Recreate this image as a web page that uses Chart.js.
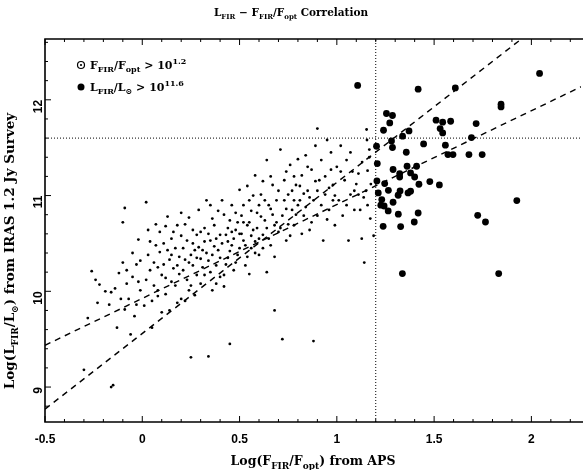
<!DOCTYPE html>
<html><head><meta charset="utf-8">
<script src="https://cdn.jsdelivr.net/npm/chart.js@4/dist/chart.umd.min.js"></script>
<style>html,body{margin:0;padding:0;background:#fff}#wrap{width:585px;height:470px;position:relative}</style>
</head><body><div id="wrap"><canvas id="c" width="585" height="470"></canvas></div>
<script>
// ---- data ----
const smallX = [
-0.30,-0.26,-0.24,-0.22,-0.23,-0.28,
-0.16,-0.15,-0.19,-0.17,-0.16,-0.14,-0.12,-0.09,-0.10,-0.10,-0.13,-0.11,
-0.08,-0.07,-0.05,-0.04,-0.03,-0.02,-0.01,-0.06,-0.05,-0.03,-0.02,-0.08,-0.01,-0.09,
0.01,0.02,0.03,0.04,0.05,0.06,0.07,0.08,0.09,0.10,0.02,0.04,0.05,0.06,0.07,0.08,0.09,0.10,0.03,0.08,
0.11,0.12,0.13,0.14,0.15,0.16,0.17,0.18,0.19,0.20,0.11,0.12,0.13,0.14,0.15,0.16,0.17,0.18,0.19,0.20,0.12,0.15,0.18,0.20,
0.21,0.22,0.23,0.24,0.25,0.25,0.26,0.27,0.28,0.29,0.30,0.21,0.22,0.23,0.24,0.25,0.26,0.27,0.28,0.29,0.30,0.22,0.24,0.26,0.28,0.30,
0.31,0.32,0.33,0.34,0.34,0.35,0.36,0.37,0.38,0.39,0.40,0.31,0.32,0.33,0.35,0.36,0.37,0.38,0.39,0.40,0.32,0.34,0.36,0.38,0.40,0.35,
0.41,0.42,0.43,0.44,0.45,0.46,0.47,0.48,0.49,0.50,0.41,0.42,0.43,0.44,0.45,0.46,0.47,0.48,0.49,0.50,0.42,0.44,0.46,0.48,0.50,0.45,
0.51,0.52,0.53,0.54,0.55,0.56,0.57,0.58,0.59,0.60,0.51,0.52,0.53,0.54,0.55,0.56,0.57,0.58,0.59,0.60,0.52,0.54,0.56,0.58,0.60,0.55,
0.61,0.62,0.63,0.64,0.65,0.66,0.67,0.68,0.69,0.70,0.61,0.62,0.63,0.64,0.65,0.66,0.67,0.68,0.69,0.70,0.64,0.68,0.62,0.66,
0.71,0.72,0.73,0.74,0.75,0.76,0.77,0.78,0.79,0.80,0.71,0.72,0.73,0.74,0.75,0.76,0.77,0.78,0.79,0.80,0.74,0.78,
0.81,0.82,0.83,0.84,0.85,0.86,0.87,0.88,0.88,0.89,0.90,0.81,0.82,0.83,0.84,0.85,0.86,0.87,0.89,0.90,
0.91,0.92,0.93,0.94,0.95,0.96,0.97,0.98,0.99,1.00,0.90,0.92,0.94,0.96,0.98,0.95,0.97,0.99,
1.01,1.02,1.03,1.04,1.05,1.06,1.07,1.08,1.09,1.10,1.02,1.05,1.07,1.09,
1.153,1.155,1.167,1.167,1.111,1.158,1.175,1.138,1.111,1.158,1.172,1.128,1.189,1.141,1.12,1.15,1.13];
const smallY = [
9.18,10.21,10.12,10.07,9.88,9.72,
9.00,9.02,10.00,9.86,9.99,10.03,10.19,10.87,10.72,10.30,9.62,9.92,
10.08,9.92,10.15,9.74,10.28,10.54,10.01,9.55,10.40,9.86,10.10,10.22,10.32,9.81,
9.85,10.93,10.38,10.22,9.62,10.06,10.48,9.95,10.62,10.17,10.12,10.52,9.90,10.30,10.70,10.01,10.41,9.78,10.64,10.25,
10.28,10.14,10.43,9.80,10.55,10.24,10.06,10.69,10.36,9.92,10.50,9.97,10.78,10.33,10.10,10.62,10.45,9.88,10.18,10.58,10.68,10.38,10.27,10.82,
10.22,9.90,10.53,10.30,9.31,10.06,10.64,10.43,10.17,10.85,10.34,10.45,10.70,10.12,10.01,10.38,10.27,9.96,10.59,10.46,10.08,10.33,10.77,10.50,10.35,10.62,
10.43,10.17,10.95,9.32,10.32,10.53,10.01,10.69,10.27,10.43,10.59,10.25,10.66,10.40,10.20,10.76,10.47,10.08,10.84,10.35,10.52,10.60,10.38,10.55,10.15,10.90,
10.95,10.17,10.59,10.35,10.74,10.48,10.22,10.64,10.38,11.06,10.50,10.80,10.28,10.66,10.42,10.90,10.55,10.30,10.72,10.45,10.05,10.52,10.62,10.82,10.60,9.45,
10.79,10.53,10.27,10.69,10.95,10.45,10.64,11.21,10.82,10.38,10.60,10.90,10.48,10.36,10.72,10.58,11.00,10.52,10.66,10.90,10.72,11.10,10.84,10.40,10.55,10.18,
11.01,10.59,10.74,11.37,10.90,10.48,11.11,10.69,10.95,10.62,10.78,10.45,10.95,10.66,10.55,11.20,10.80,10.36,10.72,11.05,10.20,9.80,11.15,10.86,
11.48,10.79,11.16,10.53,11.01,11.32,10.85,10.69,11.11,10.90,10.66,9.50,10.95,11.25,10.70,10.58,11.05,11.20,10.80,11.38,10.86,10.95,
10.95,11.21,10.79,11.42,11.05,10.64,11.27,9.48,10.95,11.52,10.79,11.10,10.60,11.02,10.88,11.30,10.98,10.72,11.15,11.05,
11.16,11.37,10.53,11.01,11.58,10.85,11.27,11.11,10.69,11.30,11.70,10.90,11.20,11.08,10.95,10.75,11.45,11.00,
10.95,11.52,10.79,11.16,11.37,10.53,11.01,11.25,10.85,11.12,11.25,10.90,11.45,11.05,
11.69,11.58,11.48,11.40,11.23,11.26,11.12,10.98,11.01,10.90,10.76,10.55,10.58,10.30,10.85,11.05,11.35];
const bigX = [2.042,1.418,1.609,1.844,1.844,1.255,1.286,1.272,1.510,1.544,1.585,1.716,1.531,1.544,1.240,1.371,1.338,1.692,1.281,1.286,1.204,1.446,1.558,1.357,1.571,1.597,1.679,1.747,1.208,1.289,1.361,1.410,1.323,1.323,1.379,1.400,1.206,1.246,1.422,1.478,1.527,1.265,1.325,1.366,1.379,1.213,1.315,1.231,1.289,1.226,1.243,1.264,1.316,1.418,1.925,1.724,1.764,1.398,1.238,1.328,1.337,1.832,1.107];
const bigY = [12.275,12.111,12.124,11.954,11.926,11.857,11.836,11.759,11.787,11.766,11.776,11.752,11.700,11.654,11.682,11.675,11.620,11.606,11.571,11.502,11.515,11.539,11.526,11.452,11.428,11.428,11.428,11.428,11.334,11.272,11.306,11.306,11.230,11.194,11.236,11.194,11.153,11.125,11.118,11.146,11.111,11.055,11.048,11.027,11.045,11.027,11.003,10.958,10.930,10.899,10.891,10.839,10.805,10.818,10.948,10.794,10.724,10.724,10.679,10.676,10.185,10.185,12.15];
const fitSteepX = [-0.5, 2.3];
const fitSteepY = [8.77, 13.19];
const fitFlatX = [-0.5, 2.3];
const fitFlatY = [9.436, 12.18];
const cutFX = [1.2, 1.2];
const cutFY = [8.635, 12.635];
const cutLX = [-0.5, 2.3];
const cutLY = [11.6, 11.6];
const xTickLabels = ['-0.5','0','0.5','1','1.5','2'];
const yTickLabels = ['9','10','11','12'];

const toPts = (xs, ys) => xs.map((v, i) => ({x: v, y: ys[i]}));

const SERIF = '"DejaVu Serif", "Liberation Serif", serif';
function rich(ctx, parts, x, y, align, size) {
  const fnt = m => 'bold ' + (m === 0 ? size : Math.round(size * 0.7)) + 'px ' + SERIF;
  let w = 0;
  parts.forEach(p => { ctx.font = fnt(p[1]); w += ctx.measureText(p[0]).width; });
  let cx = align === 'center' ? x - w / 2 : x;
  ctx.textAlign = 'left'; ctx.textBaseline = 'alphabetic';
  parts.forEach(p => {
    ctx.font = fnt(p[1]);
    const dy = p[1] === -1 ? size * 0.3 : (p[1] === 1 ? -size * 0.45 : 0);
    ctx.fillText(p[0], cx, y + dy);
    cx += ctx.measureText(p[0]).width;
  });
}

const deco = {
  id: 'deco',
  afterDraw(chart) {
    const {ctx, chartArea: a, scales: {x, y}} = chart;
    ctx.save();
    ctx.strokeStyle = '#000'; ctx.fillStyle = '#000'; ctx.lineWidth = 1.6;
    ctx.beginPath();
    ctx.moveTo(a.right + 2, a.top); ctx.lineTo(a.left, a.top); ctx.lineTo(a.left, a.bottom); ctx.lineTo(a.right + 2, a.bottom);
    ctx.stroke();
    ctx.lineWidth = 1;
    for (let k = -5; k <= 23; k++) {
      const v = k / 10; const px = x.getPixelForValue(v);
      if (px > a.right) break;
      const L = (k % 5 === 0) ? 6 : 3;
      ctx.beginPath(); ctx.moveTo(px, a.bottom); ctx.lineTo(px, a.bottom - L);
      ctx.moveTo(px, a.top); ctx.lineTo(px, a.top + L); ctx.stroke();
    }
    for (let k = 44; k <= 63; k++) {
      const v = k / 5; const py = y.getPixelForValue(v);
      const L = (k % 5 === 0) ? 6 : 3;
      ctx.beginPath(); ctx.moveTo(a.left, py); ctx.lineTo(a.left + L, py); ctx.stroke();
    }
    rich(ctx, [['L', 0], ['FIR', -1], [' \u2212 F', 0], ['FIR', -1], ['/F', 0], ['opt', -1], [' Correlation', 0]], 291, 16, 'center', 10.5);
    rich(ctx, [['Log(F', 0], ['FIR', -1], ['/F', 0], ['opt', -1], [') from APS', 0]], 313, 465, 'center', 12.5);
    ctx.save(); ctx.translate(14, 251); ctx.rotate(-Math.PI / 2);
    rich(ctx, [['Log(L', 0], ['FIR', -1], ['/L', 0], ['\u2299', -1], [') from IRAS 1.2 Jy Survey', 0]], 0, 0, 'center', 13.5);
    ctx.restore();
    ctx.lineWidth = 1.2;
    ctx.beginPath(); ctx.arc(81, 65, 3.5, 0, Math.PI * 2); ctx.stroke();
    ctx.beginPath(); ctx.arc(81, 65, 1.1, 0, Math.PI * 2); ctx.fill();
    rich(ctx, [['F', 0], ['FIR', -1], ['/F', 0], ['opt', -1], [' > 10', 0], ['1.2', 1]], 90, 69, 'left', 11);
    ctx.beginPath(); ctx.arc(81, 87, 3.5, 0, Math.PI * 2); ctx.fill();
    rich(ctx, [['L', 0], ['FIR', -1], ['/L', 0], ['\u2299', -1], [' > 10', 0], ['11.6', 1]], 90, 91, 'left', 11);
    ctx.restore();
  }
};

new Chart(document.getElementById('c'), {
  type: 'scatter',
  data: {
    datasets: [
      {data: toPts(smallX, smallY), pointRadius: 1.4, backgroundColor: '#000', borderWidth: 0, pointHoverRadius: 1.4},
      {data: toPts(bigX, bigY), pointRadius: 3.4, backgroundColor: '#000', borderWidth: 0},
      {type: 'line', data: toPts(fitSteepX, fitSteepY), borderColor: '#000', borderWidth: 1.4, borderDash: [6, 5], pointRadius: 0, fill: false},
      {type: 'line', data: toPts(fitFlatX, fitFlatY), borderColor: '#000', borderWidth: 1.4, borderDash: [6, 5], pointRadius: 0, fill: false},
      {type: 'line', data: toPts(cutFX, cutFY), borderColor: '#000', borderWidth: 1, borderDash: [1, 2], pointRadius: 0, fill: false},
      {type: 'line', data: toPts(cutLX, cutLY), borderColor: '#000', borderWidth: 1, borderDash: [1, 2], pointRadius: 0, fill: false}
    ]
  },
  options: {
    responsive: false, animation: false, devicePixelRatio: 1,
    layout: {padding: {top: 39, left: 0, right: 0, bottom: 0}},
    plugins: {legend: {display: false}, tooltip: {enabled: false}, title: {display: false}},
    scales: {
      x: {type: 'linear', min: -0.5, max: 2.255,
        grid: {display: false, drawTicks: false}, border: {display: false},
        afterBuildTicks: s => { s.ticks = xTickLabels.map(t => ({value: parseFloat(t)})); },
        ticks: {padding: 10, color: '#000', font: {family: '"Liberation Sans", Arial, sans-serif', weight: 'bold', size: 12},
          callback: (v) => xTickLabels.find(t => Math.abs(parseFloat(t) - v) < 1e-6) || ''},
        afterFit: s => { s.height = 48; }
      },
      y: {type: 'linear', min: 8.635, max: 12.635,
        grid: {display: false, drawTicks: false}, border: {display: false},
        afterBuildTicks: s => { s.ticks = yTickLabels.map(t => ({value: parseFloat(t)})); },
        ticks: {padding: 6, color: '#000', minRotation: 90, maxRotation: 90, font: {family: '"Liberation Sans", Arial, sans-serif', weight: 'bold', size: 12},
          callback: (v) => yTickLabels.find(t => Math.abs(parseFloat(t) - v) < 1e-6) || ''},
        afterFit: s => { s.width = 45; }
      }
    }
  },
  plugins: [deco]
});
</script></body></html>
